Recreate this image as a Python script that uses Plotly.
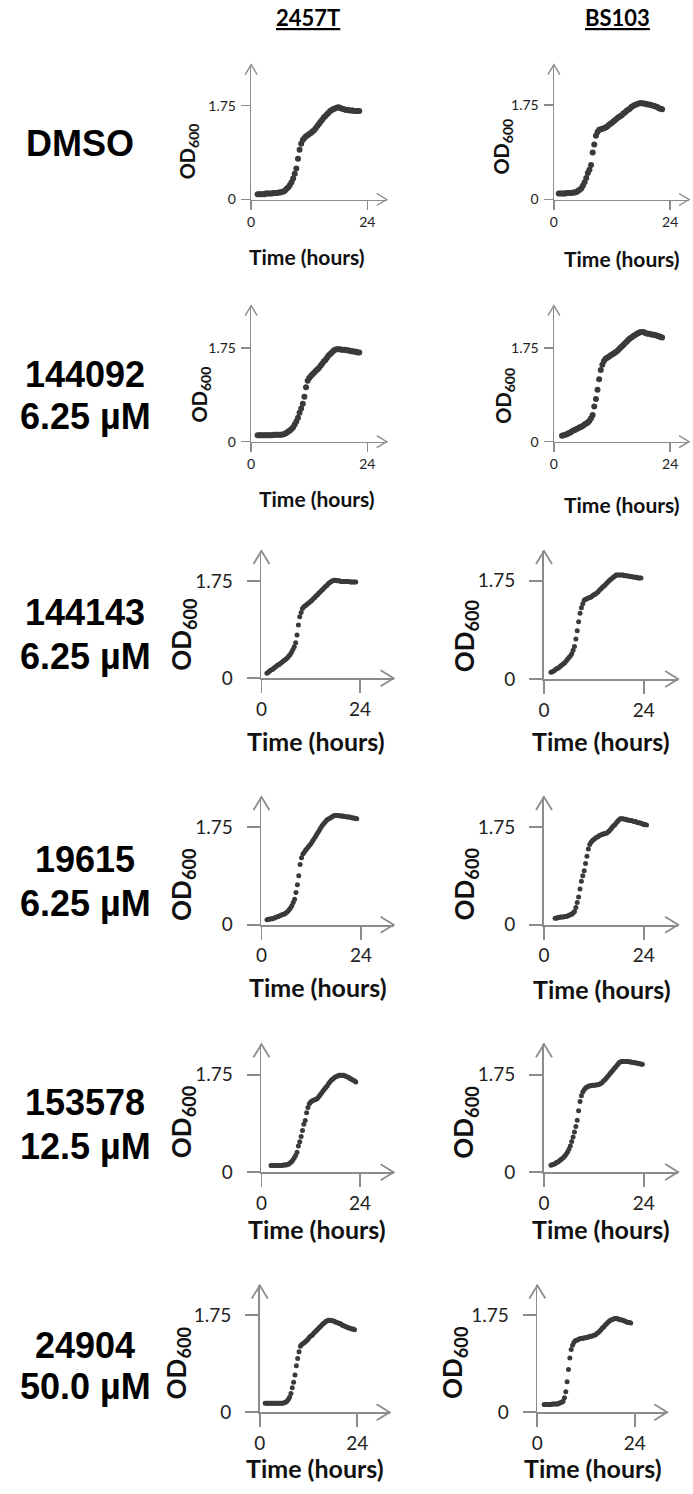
import plotly.graph_objects as go

# ---------------- data ----------------
TIME_H = [0.33, 0.67, 1.0, 1.33, 1.67, 2.0, 2.33, 2.67, 3.0, 3.33, 3.67, 4.0, 4.33, 4.67,
          5.0, 5.33, 5.67, 6.0, 6.33, 6.67, 7.0, 7.33, 7.67, 8.0, 8.33, 8.67, 9.0, 9.33,
          9.67, 10.0, 10.33, 10.67, 11.0, 11.33, 11.67, 12.0, 12.33, 12.67, 13.0, 13.33,
          13.67, 14.0, 14.33, 14.67, 15.0, 15.33, 15.67, 16.0, 16.33, 16.67, 17.0, 17.33,
          17.67, 18.0, 18.33, 18.67, 19.0, 19.33, 19.67, 20.0, 20.33, 20.67, 21.0, 21.33,
          21.67, 22.0, 22.33, 22.67, 23.0, 23.33, 23.67, 24.0, 24.33, 24.67]

STRAINS = ["2457T", "BS103"]
TREATMENTS = [("DMSO", ""), ("144092", "6.25 µM"), ("144143", "6.25 µM"),
              ("19615", "6.25 µM"), ("153578", "12.5 µM"), ("24904", "50.0 µM")]

# first reading index (1-based into TIME_H) for every curve
start_dmso_2457T = 4
od_dmso_2457T = [0.10, 0.10, 0.10, 0.10, 0.10, 0.11, 0.11, 0.11, 0.11, 0.11, 0.12, 0.12, 0.12, 0.13, 0.13, 0.14,
                 0.15, 0.17, 0.20, 0.23, 0.27, 0.32, 0.39, 0.48, 0.58, 0.76, 0.93, 1.04, 1.11, 1.15, 1.18, 1.20,
                 1.22, 1.24, 1.27, 1.29, 1.33, 1.37, 1.41, 1.45, 1.49, 1.53, 1.56, 1.59, 1.62, 1.65, 1.67, 1.69,
                 1.70, 1.71, 1.72, 1.71, 1.70, 1.69, 1.68, 1.67, 1.67, 1.66, 1.66, 1.66, 1.65, 1.65, 1.65, 1.65]
start_dmso_BS103 = 3
od_dmso_BS103 = [0.11, 0.11, 0.11, 0.11, 0.11, 0.12, 0.12, 0.12, 0.12, 0.13, 0.13, 0.14, 0.16, 0.18, 0.21, 0.26,
                 0.32, 0.40, 0.49, 0.55, 0.64, 0.87, 1.02, 1.18, 1.25, 1.29, 1.30, 1.31, 1.32, 1.33, 1.35, 1.38,
                 1.40, 1.42, 1.45, 1.47, 1.50, 1.52, 1.54, 1.56, 1.59, 1.61, 1.64, 1.66, 1.68, 1.71, 1.73, 1.75,
                 1.76, 1.77, 1.78, 1.78, 1.78, 1.77, 1.77, 1.76, 1.76, 1.75, 1.74, 1.73, 1.72, 1.71, 1.69, 1.68, 1.67]
start_144092_2457T = 4
od_144092_2457T = [0.12, 0.12, 0.12, 0.12, 0.12, 0.12, 0.12, 0.12, 0.12, 0.12, 0.13, 0.13, 0.13, 0.13, 0.13, 0.13,
                   0.14, 0.15, 0.17, 0.19, 0.21, 0.24, 0.27, 0.32, 0.38, 0.45, 0.54, 0.62, 0.71, 0.84, 1.02, 1.14,
                   1.19, 1.23, 1.26, 1.29, 1.32, 1.35, 1.38, 1.42, 1.46, 1.50, 1.53, 1.57, 1.61, 1.64, 1.67, 1.70,
                   1.72, 1.73, 1.73, 1.73, 1.72, 1.72, 1.72, 1.71, 1.71, 1.70, 1.69, 1.69, 1.68, 1.68, 1.67, 1.67]
start_144092_BS103 = 5
od_144092_BS103 = [0.11, 0.12, 0.13, 0.14, 0.16, 0.17, 0.19, 0.21, 0.22, 0.24, 0.25, 0.27, 0.28, 0.30, 0.32, 0.34,
                   0.36, 0.39, 0.44, 0.50, 0.66, 0.80, 0.97, 1.17, 1.34, 1.44, 1.51, 1.55, 1.57, 1.59, 1.61, 1.63,
                   1.65, 1.67, 1.69, 1.72, 1.75, 1.78, 1.81, 1.84, 1.87, 1.90, 1.93, 1.95, 1.97, 1.99, 2.01, 2.03,
                   2.04, 2.05, 2.05, 2.04, 2.03, 2.02, 2.02, 2.01, 2.00, 2.00, 1.99, 1.98, 1.97, 1.96, 1.95]
start_144143_2457T = 4
od_144143_2457T = [0.09, 0.11, 0.13, 0.15, 0.16, 0.18, 0.20, 0.22, 0.24, 0.25, 0.27, 0.29, 0.31, 0.33, 0.35, 0.37,
                   0.40, 0.43, 0.47, 0.52, 0.57, 0.64, 0.78, 0.96, 1.11, 1.19, 1.26, 1.29, 1.31, 1.33, 1.35, 1.37,
                   1.39, 1.41, 1.44, 1.46, 1.49, 1.51, 1.54, 1.56, 1.59, 1.61, 1.64, 1.66, 1.68, 1.71, 1.73, 1.75,
                   1.76, 1.77, 1.77, 1.76, 1.76, 1.76, 1.75, 1.75, 1.75, 1.75, 1.75, 1.75, 1.75, 1.74, 1.74, 1.74,
                   1.74, 1.74]
start_144143_BS103 = 5
od_144143_BS103 = [0.12, 0.13, 0.14, 0.16, 0.18, 0.19, 0.21, 0.23, 0.25, 0.27, 0.29, 0.32, 0.35, 0.38, 0.41, 0.45,
                   0.51, 0.58, 0.71, 0.86, 1.02, 1.17, 1.27, 1.34, 1.40, 1.42, 1.43, 1.44, 1.45, 1.46, 1.48, 1.50,
                   1.51, 1.53, 1.55, 1.58, 1.60, 1.63, 1.65, 1.67, 1.70, 1.72, 1.75, 1.77, 1.79, 1.81, 1.83, 1.85,
                   1.85, 1.85, 1.85, 1.85, 1.85, 1.84, 1.84, 1.84, 1.83, 1.83, 1.82, 1.82, 1.81, 1.81, 1.81, 1.80,
                   1.80, 1.80]
start_19615_2457T = 4
od_19615_2457T = [0.09, 0.10, 0.10, 0.11, 0.11, 0.12, 0.13, 0.14, 0.15, 0.16, 0.17, 0.18, 0.19, 0.20, 0.22, 0.24,
                  0.27, 0.30, 0.34, 0.40, 0.46, 0.58, 0.72, 0.88, 1.08, 1.20, 1.27, 1.30, 1.34, 1.37, 1.40, 1.43,
                  1.46, 1.50, 1.54, 1.58, 1.62, 1.66, 1.70, 1.74, 1.78, 1.81, 1.84, 1.87, 1.89, 1.90, 1.92, 1.93,
                  1.95, 1.96, 1.96, 1.96, 1.96, 1.95, 1.95, 1.95, 1.94, 1.94, 1.93, 1.93, 1.93, 1.92, 1.92, 1.91,
                  1.91, 1.90]
start_19615_BS103 = 8
od_19615_BS103 = [0.12, 0.12, 0.13, 0.13, 0.14, 0.14, 0.14, 0.15, 0.15, 0.16, 0.17, 0.18, 0.19, 0.21, 0.24, 0.31,
                  0.40, 0.50, 0.64, 0.78, 0.88, 0.97, 1.10, 1.23, 1.36, 1.44, 1.48, 1.51, 1.53, 1.55, 1.57, 1.58,
                  1.60, 1.61, 1.62, 1.63, 1.63, 1.64, 1.66, 1.68, 1.71, 1.74, 1.77, 1.79, 1.82, 1.85, 1.88, 1.90,
                  1.90, 1.90, 1.89, 1.89, 1.88, 1.88, 1.87, 1.87, 1.86, 1.85, 1.85, 1.84, 1.83, 1.83, 1.82, 1.81,
                  1.80, 1.80, 1.79]
start_153578_2457T = 7
od_153578_2457T = [0.12, 0.12, 0.12, 0.12, 0.12, 0.12, 0.12, 0.12, 0.12, 0.13, 0.13, 0.13, 0.14, 0.15, 0.17, 0.19,
                   0.22, 0.26, 0.30, 0.36, 0.47, 0.55, 0.64, 0.75, 0.86, 0.93, 1.07, 1.16, 1.23, 1.26, 1.28, 1.29,
                   1.30, 1.31, 1.33, 1.36, 1.39, 1.42, 1.46, 1.49, 1.52, 1.55, 1.59, 1.62, 1.65, 1.67, 1.69, 1.71,
                   1.72, 1.73, 1.74, 1.74, 1.74, 1.74, 1.73, 1.72, 1.71, 1.70, 1.68, 1.67, 1.65, 1.64, 1.62]
start_153578_BS103 = 5
od_153578_BS103 = [0.12, 0.13, 0.14, 0.15, 0.17, 0.18, 0.20, 0.22, 0.24, 0.26, 0.29, 0.32, 0.36, 0.41, 0.47, 0.55,
                   0.63, 0.72, 0.82, 0.93, 1.10, 1.27, 1.37, 1.44, 1.48, 1.51, 1.53, 1.54, 1.55, 1.55, 1.56, 1.56,
                   1.56, 1.57, 1.57, 1.58, 1.59, 1.61, 1.64, 1.66, 1.69, 1.72, 1.75, 1.78, 1.81, 1.84, 1.87, 1.90,
                   1.93, 1.96, 1.98, 1.99, 1.99, 1.99, 1.99, 1.99, 1.99, 1.98, 1.98, 1.97, 1.97, 1.96, 1.96, 1.95,
                   1.95, 1.94, 1.94]
start_24904_2457T = 4
od_24904_2457T = [0.16, 0.16, 0.16, 0.16, 0.16, 0.16, 0.16, 0.16, 0.16, 0.16, 0.16, 0.16, 0.16, 0.16, 0.17, 0.18,
                  0.20, 0.23, 0.27, 0.34, 0.44, 0.54, 0.67, 0.84, 0.97, 1.09, 1.19, 1.22, 1.24, 1.26, 1.28, 1.30,
                  1.33, 1.36, 1.38, 1.40, 1.43, 1.45, 1.48, 1.50, 1.53, 1.55, 1.58, 1.60, 1.62, 1.64, 1.65, 1.66,
                  1.66, 1.65, 1.65, 1.64, 1.63, 1.62, 1.61, 1.60, 1.59, 1.57, 1.56, 1.55, 1.54, 1.53, 1.52, 1.51,
                  1.50, 1.50, 1.49]
start_24904_BS103 = 5
od_24904_BS103 = [0.14, 0.14, 0.14, 0.14, 0.14, 0.14, 0.15, 0.15, 0.15, 0.15, 0.15, 0.16, 0.17, 0.18, 0.20, 0.26,
                  0.37, 0.55, 0.77, 0.98, 1.13, 1.21, 1.26, 1.29, 1.30, 1.31, 1.32, 1.33, 1.33, 1.34, 1.34, 1.35,
                  1.35, 1.36, 1.37, 1.37, 1.38, 1.39, 1.40, 1.42, 1.44, 1.46, 1.49, 1.52, 1.54, 1.57, 1.59, 1.62,
                  1.64, 1.66, 1.67, 1.68, 1.69, 1.69, 1.69, 1.68, 1.67, 1.67, 1.66, 1.65, 1.64, 1.63, 1.62, 1.62,
                  1.61]

SERIES = [
    (start_dmso_2457T, od_dmso_2457T), (start_dmso_BS103, od_dmso_BS103),
    (start_144092_2457T, od_144092_2457T), (start_144092_BS103, od_144092_BS103),
    (start_144143_2457T, od_144143_2457T), (start_144143_BS103, od_144143_BS103),
    (start_19615_2457T, od_19615_2457T), (start_19615_BS103, od_19615_BS103),
    (start_153578_2457T, od_153578_2457T), (start_153578_BS103, od_153578_BS103),
    (start_24904_2457T, od_24904_2457T), (start_24904_BS103, od_24904_BS103),
]
X_TICKS = [0, 24]
Y_TICKS = [0, 1.75]
Y_TICK_TEXT = ["0", "1.75"]

# ---------------- layout (pixels) ----------------
W, H = 693, 1494
# (y-axis x, x=24 tick x, arrow tip x, y=0 px, y=1.75 px, arrow tip y)
PANEL_PX = [
    (247.3, 364.5, 384, 201, 106.5, 65), (552.7, 670, 689, 201, 105.7, 65),
    (247.3, 364.5, 384, 445, 350.7, 308), (552.7, 670, 689, 445, 350.7, 308),
    (257.7, 357, 391, 683.3, 585.7, 555), (542.7, 643.3, 678, 684, 585, 555),
    (257.7, 358, 391, 931.7, 833.3, 803), (542.7, 643.3, 678, 931.7, 833.3, 803),
    (257.7, 357, 391, 1181, 1082.7, 1052), (542.7, 643.3, 678, 1180.7, 1082.7, 1052),
    (256, 354.3, 387, 1422.7, 1325, 1295), (536, 634.3, 667, 1422.7, 1325, 1295),
]
OD_POS = [(184, 152), (501, 148), (196, 397), (502, 399), (178, 639), (463, 640),
          (178, 891), (463, 890), (178, 1130), (463, 1130), (173, 1373), (452, 1373)]
TIME_POS = [(304, 258), (621, 260), (314, 502), (621, 508), (313, 746), (600, 746),
            (315, 994), (601, 996), (314, 1238), (600, 1238), (312, 1479), (592, 1479)]
ROW_LABEL_POS = [(75, 145, None), (80, 377, 420), (80, 617, 661), (80, 866, 910),
                 (80, 1111, 1155), (80, 1355, 1397)]
COL_TITLE_POS = [(305, 18), (617, 18)]

SMALL = dict(tick=14, ticklen=9, standoff=2, od=20, time=21, marker=6, aw=6, ah=10, lw=1.4)
LARGE = dict(tick=19, ticklen=13, standoff=10, od=26, time=25, marker=5, aw=8, ah=13, lw=1.8)

AXIS_COLOR = "#8c8c8c"
DOT_COLOR = "#3a3a3a"
TEXT_COLOR = "#111111"
FONT = "Lato"


def px(x):
    return x / W


def py(y):
    return 1 - y / H


fig = go.Figure()
shapes = []
annotations = []
layout = {}

for i, ((start, vals), geo) in enumerate(zip(SERIES, PANEL_PX)):
    n = i + 1
    sty = SMALL if i < 4 else LARGE
    ax0, x24, xr, y0, y175, ytop = geo
    xmax = 24 * (xr - ax0) / (x24 - ax0)
    ymax = 1.75 * (y0 - ytop) / (y0 - y175)
    xs = TIME_H[start - 1:start - 1 + len(vals)]
    xref = "x" if n == 1 else f"x{n}"
    yref = "y" if n == 1 else f"y{n}"
    fig.add_trace(go.Scatter(x=xs, y=vals, mode="markers", xaxis=xref, yaxis=yref,
                             marker=dict(size=sty["marker"], color=DOT_COLOR, line=dict(width=0)),
                             showlegend=False, hoverinfo="skip", cliponaxis=False))
    common = dict(showline=True, linecolor=AXIS_COLOR, linewidth=sty["lw"], ticks="outside",
                  ticklen=sty["ticklen"], tickcolor=AXIS_COLOR, tickwidth=sty["lw"],
                  showgrid=False, zeroline=False, fixedrange=True,
                  tickfont=dict(family=FONT, size=sty["tick"], color="#222222"))
    layout["xaxis" if n == 1 else f"xaxis{n}"] = dict(
        domain=[px(ax0), px(xr)], range=[0, xmax], anchor=yref,
        tickmode="array", tickvals=X_TICKS, ticktext=[str(v) for v in X_TICKS], **common)
    layout["yaxis" if n == 1 else f"yaxis{n}"] = dict(
        domain=[py(y0), py(ytop)], range=[0, ymax], anchor=xref,
        ticklabelstandoff=sty["standoff"],
        tickmode="array", tickvals=Y_TICKS, ticktext=Y_TICK_TEXT, **common)
    aw, ah = sty["aw"], sty["ah"]
    # arrow head on the y axis (top) - paper referenced so it is not clipped
    shapes.append(dict(type="path", xref="paper", yref="paper", xsizemode="pixel", ysizemode="pixel",
                       xanchor=px(ax0), yanchor=py(ytop),
                       path=f"M {-aw},{-ah} L 0,0 L {aw},{-ah}",
                       line=dict(color=AXIS_COLOR, width=sty["lw"])))
    # arrow head on the x axis (right)
    shapes.append(dict(type="path", xref="paper", yref="paper", xsizemode="pixel", ysizemode="pixel",
                       xanchor=px(xr), yanchor=py(y0),
                       path=f"M {-ah},{aw} L 0,0 L {-ah},{-aw}",
                       line=dict(color=AXIS_COLOR, width=sty["lw"])))
    ox, oy = OD_POS[i]
    annotations.append(dict(x=px(ox), y=py(oy), xref="paper", yref="paper", showarrow=False,
                            text="<b>OD<sub>600</sub></b>", textangle=-90,
                            xanchor="center", yanchor="middle",
                            font=dict(family=FONT, size=sty["od"], color=TEXT_COLOR)))
    tx, ty = TIME_POS[i]
    annotations.append(dict(x=px(tx), y=py(ty), xref="paper", yref="paper", showarrow=False,
                            text="<b>Time (hours)</b>", xanchor="center", yanchor="middle",
                            font=dict(family=FONT, size=sty["time"], color=TEXT_COLOR)))

for (name, conc), (lx, l1, l2) in zip(TREATMENTS, ROW_LABEL_POS):
    annotations.append(dict(x=px(lx), y=py(l1), xref="paper", yref="paper", showarrow=False,
                            text=f"<b>{name}</b>", xanchor="center", yanchor="middle",
                            font=dict(family="Liberation Sans", size=36, color="#000000")))
    if conc:
        annotations.append(dict(x=px(lx), y=py(l2), xref="paper", yref="paper", showarrow=False,
                                text=f"<b>{conc}</b>", xanchor="center", yanchor="middle",
                                font=dict(family="Liberation Sans", size=36, color="#000000")))

for strain, (cx, cy) in zip(STRAINS, COL_TITLE_POS):
    annotations.append(dict(x=px(cx), y=py(cy), xref="paper", yref="paper", showarrow=False,
                            text=f"<b><u>{strain}</u></b>", xanchor="center", yanchor="middle",
                            font=dict(family=FONT, size=22, color="#000000")))

fig.update_layout(width=W, height=H, margin=dict(l=0, r=0, t=0, b=0),
                  paper_bgcolor="white", plot_bgcolor="white",
                  shapes=shapes, annotations=annotations, showlegend=False, **layout)
fig.write_html("out.html", config={"displayModeBar": False, "staticPlot": True},
               post_script="document.body.style.margin='0';document.body.style.overflow='hidden';")
